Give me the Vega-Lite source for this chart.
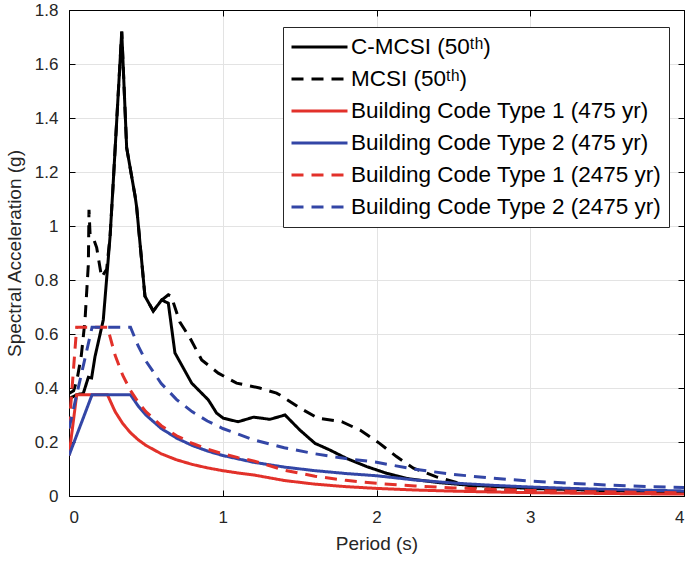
{
  "$schema": "https://vega.github.io/schema/vega-lite/v6.json",
  "width": 615,
  "height": 486,
  "autosize": {"type": "none"},
  "padding": {"left": 69, "top": 10, "right": 7, "bottom": 66},
  "config": {
    "font": "Liberation Sans",
    "view": {"stroke": "black", "strokeWidth": 1},
    "axis": {
      "grid": true,
      "gridColor": "#e3e3e3",
      "gridWidth": 1,
      "domainColor": "black",
      "tickColor": "black",
      "tickSize": -6,
      "labelColor": "#262626",
      "labelFont": "Liberation Sans",
      "labelFontSize": 17,
      "titleFont": "Liberation Sans",
      "titleFontSize": 19,
      "titleFontWeight": "normal",
      "titleColor": "#262626"
    }
  },
  "datasets": {
    "curves": [
      {"series": "C-MCSI (50ᵗʰ)", "T": 0, "Sa": 0.36},
      {"series": "C-MCSI (50ᵗʰ)", "T": 0.05, "Sa": 0.375},
      {"series": "C-MCSI (50ᵗʰ)", "T": 0.093, "Sa": 0.38},
      {"series": "C-MCSI (50ᵗʰ)", "T": 0.126, "Sa": 0.44},
      {"series": "C-MCSI (50ᵗʰ)", "T": 0.147, "Sa": 0.437},
      {"series": "C-MCSI (50ᵗʰ)", "T": 0.169, "Sa": 0.516},
      {"series": "C-MCSI (50ᵗʰ)", "T": 0.223, "Sa": 0.652},
      {"series": "C-MCSI (50ᵗʰ)", "T": 0.267, "Sa": 0.96},
      {"series": "C-MCSI (50ᵗʰ)", "T": 0.286, "Sa": 1.144},
      {"series": "C-MCSI (50ᵗʰ)", "T": 0.343, "Sa": 1.72},
      {"series": "C-MCSI (50ᵗʰ)", "T": 0.375, "Sa": 1.29},
      {"series": "C-MCSI (50ᵗʰ)", "T": 0.43, "Sa": 1.11},
      {"series": "C-MCSI (50ᵗʰ)", "T": 0.44, "Sa": 1.07},
      {"series": "C-MCSI (50ᵗʰ)", "T": 0.494, "Sa": 0.74},
      {"series": "C-MCSI (50ᵗʰ)", "T": 0.548, "Sa": 0.685},
      {"series": "C-MCSI (50ᵗʰ)", "T": 0.603, "Sa": 0.726},
      {"series": "C-MCSI (50ᵗʰ)", "T": 0.646, "Sa": 0.714},
      {"series": "C-MCSI (50ᵗʰ)", "T": 0.689, "Sa": 0.53},
      {"series": "C-MCSI (50ᵗʰ)", "T": 0.798, "Sa": 0.418},
      {"series": "C-MCSI (50ᵗʰ)", "T": 0.906, "Sa": 0.356},
      {"series": "C-MCSI (50ᵗʰ)", "T": 0.96, "Sa": 0.307},
      {"series": "C-MCSI (50ᵗʰ)", "T": 1.004, "Sa": 0.288},
      {"series": "C-MCSI (50ᵗʰ)", "T": 1.1, "Sa": 0.275},
      {"series": "C-MCSI (50ᵗʰ)", "T": 1.2, "Sa": 0.292},
      {"series": "C-MCSI (50ᵗʰ)", "T": 1.307, "Sa": 0.284},
      {"series": "C-MCSI (50ᵗʰ)", "T": 1.405, "Sa": 0.3},
      {"series": "C-MCSI (50ᵗʰ)", "T": 1.502, "Sa": 0.244},
      {"series": "C-MCSI (50ᵗʰ)", "T": 1.6, "Sa": 0.195},
      {"series": "C-MCSI (50ᵗʰ)", "T": 1.698, "Sa": 0.17},
      {"series": "C-MCSI (50ᵗʰ)", "T": 1.806, "Sa": 0.139},
      {"series": "C-MCSI (50ᵗʰ)", "T": 1.936, "Sa": 0.109},
      {"series": "C-MCSI (50ᵗʰ)", "T": 2.066, "Sa": 0.084},
      {"series": "C-MCSI (50ᵗʰ)", "T": 2.196, "Sa": 0.065},
      {"series": "C-MCSI (50ᵗʰ)", "T": 2.4, "Sa": 0.05},
      {"series": "C-MCSI (50ᵗʰ)", "T": 2.6, "Sa": 0.04},
      {"series": "C-MCSI (50ᵗʰ)", "T": 3.0, "Sa": 0.028},
      {"series": "C-MCSI (50ᵗʰ)", "T": 3.5, "Sa": 0.02},
      {"series": "C-MCSI (50ᵗʰ)", "T": 4.0, "Sa": 0.015},

      {"series": "MCSI (50ᵗʰ)", "T": 0, "Sa": 0.38},
      {"series": "MCSI (50ᵗʰ)", "T": 0.03, "Sa": 0.39},
      {"series": "MCSI (50ᵗʰ)", "T": 0.052, "Sa": 0.43},
      {"series": "MCSI (50ᵗʰ)", "T": 0.08, "Sa": 0.52},
      {"series": "MCSI (50ᵗʰ)", "T": 0.104, "Sa": 0.65},
      {"series": "MCSI (50ᵗʰ)", "T": 0.126, "Sa": 0.86},
      {"series": "MCSI (50ᵗʰ)", "T": 0.13, "Sa": 1.06},
      {"series": "MCSI (50ᵗʰ)", "T": 0.137, "Sa": 0.97},
      {"series": "MCSI (50ᵗʰ)", "T": 0.158, "Sa": 0.955},
      {"series": "MCSI (50ᵗʰ)", "T": 0.18, "Sa": 0.92},
      {"series": "MCSI (50ᵗʰ)", "T": 0.212, "Sa": 0.81},
      {"series": "MCSI (50ᵗʰ)", "T": 0.245, "Sa": 0.84},
      {"series": "MCSI (50ᵗʰ)", "T": 0.267, "Sa": 0.96},
      {"series": "MCSI (50ᵗʰ)", "T": 0.286, "Sa": 1.144},
      {"series": "MCSI (50ᵗʰ)", "T": 0.343, "Sa": 1.72},
      {"series": "MCSI (50ᵗʰ)", "T": 0.375, "Sa": 1.29},
      {"series": "MCSI (50ᵗʰ)", "T": 0.43, "Sa": 1.11},
      {"series": "MCSI (50ᵗʰ)", "T": 0.44, "Sa": 1.07},
      {"series": "MCSI (50ᵗʰ)", "T": 0.494, "Sa": 0.74},
      {"series": "MCSI (50ᵗʰ)", "T": 0.548, "Sa": 0.685},
      {"series": "MCSI (50ᵗʰ)", "T": 0.603, "Sa": 0.726},
      {"series": "MCSI (50ᵗʰ)", "T": 0.646, "Sa": 0.745},
      {"series": "MCSI (50ᵗʰ)", "T": 0.665, "Sa": 0.74},
      {"series": "MCSI (50ᵗʰ)", "T": 0.72, "Sa": 0.645},
      {"series": "MCSI (50ᵗʰ)", "T": 0.787, "Sa": 0.585},
      {"series": "MCSI (50ᵗʰ)", "T": 0.863, "Sa": 0.504},
      {"series": "MCSI (50ᵗʰ)", "T": 0.971, "Sa": 0.455},
      {"series": "MCSI (50ᵗʰ)", "T": 1.09, "Sa": 0.418},
      {"series": "MCSI (50ᵗʰ)", "T": 1.24, "Sa": 0.4},
      {"series": "MCSI (50ᵗʰ)", "T": 1.35, "Sa": 0.381},
      {"series": "MCSI (50ᵗʰ)", "T": 1.372, "Sa": 0.374},
      {"series": "MCSI (50ᵗʰ)", "T": 1.502, "Sa": 0.326},
      {"series": "MCSI (50ᵗʰ)", "T": 1.62, "Sa": 0.288},
      {"series": "MCSI (50ᵗʰ)", "T": 1.774, "Sa": 0.275},
      {"series": "MCSI (50ᵗʰ)", "T": 1.893, "Sa": 0.244},
      {"series": "MCSI (50ᵗʰ)", "T": 2.02, "Sa": 0.195},
      {"series": "MCSI (50ᵗʰ)", "T": 2.13, "Sa": 0.146},
      {"series": "MCSI (50ᵗʰ)", "T": 2.24, "Sa": 0.103},
      {"series": "MCSI (50ᵗʰ)", "T": 2.39, "Sa": 0.071},
      {"series": "MCSI (50ᵗʰ)", "T": 2.54, "Sa": 0.047},
      {"series": "MCSI (50ᵗʰ)", "T": 2.72, "Sa": 0.022},
      {"series": "MCSI (50ᵗʰ)", "T": 3.0, "Sa": 0.02},
      {"series": "MCSI (50ᵗʰ)", "T": 3.5, "Sa": 0.017},
      {"series": "MCSI (50ᵗʰ)", "T": 4.0, "Sa": 0.015},

      {"series": "Building Code Type 1 (475 yr)", "T": 0, "Sa": 0.15},
      {"series": "Building Code Type 1 (475 yr)", "T": 0.05, "Sa": 0.375},
      {"series": "Building Code Type 1 (475 yr)", "T": 0.25, "Sa": 0.375},
      {"series": "Building Code Type 1 (475 yr)", "T": 0.3, "Sa": 0.3125},
      {"series": "Building Code Type 1 (475 yr)", "T": 0.35, "Sa": 0.2679},
      {"series": "Building Code Type 1 (475 yr)", "T": 0.4, "Sa": 0.2344},
      {"series": "Building Code Type 1 (475 yr)", "T": 0.45, "Sa": 0.2083},
      {"series": "Building Code Type 1 (475 yr)", "T": 0.5, "Sa": 0.1875},
      {"series": "Building Code Type 1 (475 yr)", "T": 0.6, "Sa": 0.1563},
      {"series": "Building Code Type 1 (475 yr)", "T": 0.7, "Sa": 0.1339},
      {"series": "Building Code Type 1 (475 yr)", "T": 0.8, "Sa": 0.1172},
      {"series": "Building Code Type 1 (475 yr)", "T": 0.9, "Sa": 0.1042},
      {"series": "Building Code Type 1 (475 yr)", "T": 1.0, "Sa": 0.0938},
      {"series": "Building Code Type 1 (475 yr)", "T": 1.1, "Sa": 0.0852},
      {"series": "Building Code Type 1 (475 yr)", "T": 1.2, "Sa": 0.0781},
      {"series": "Building Code Type 1 (475 yr)", "T": 1.4, "Sa": 0.0574},
      {"series": "Building Code Type 1 (475 yr)", "T": 1.6, "Sa": 0.0439},
      {"series": "Building Code Type 1 (475 yr)", "T": 1.8, "Sa": 0.0347},
      {"series": "Building Code Type 1 (475 yr)", "T": 2.0, "Sa": 0.0281},
      {"series": "Building Code Type 1 (475 yr)", "T": 2.25, "Sa": 0.0222},
      {"series": "Building Code Type 1 (475 yr)", "T": 2.5, "Sa": 0.018},
      {"series": "Building Code Type 1 (475 yr)", "T": 2.75, "Sa": 0.0149},
      {"series": "Building Code Type 1 (475 yr)", "T": 3.0, "Sa": 0.0125},
      {"series": "Building Code Type 1 (475 yr)", "T": 3.25, "Sa": 0.0107},
      {"series": "Building Code Type 1 (475 yr)", "T": 3.5, "Sa": 0.0092},
      {"series": "Building Code Type 1 (475 yr)", "T": 3.75, "Sa": 0.008},
      {"series": "Building Code Type 1 (475 yr)", "T": 4.0, "Sa": 0.007},

      {"series": "Building Code Type 2 (475 yr)", "T": 0, "Sa": 0.15},
      {"series": "Building Code Type 2 (475 yr)", "T": 0.15, "Sa": 0.375},
      {"series": "Building Code Type 2 (475 yr)", "T": 0.4, "Sa": 0.375},
      {"series": "Building Code Type 2 (475 yr)", "T": 0.45, "Sa": 0.3333},
      {"series": "Building Code Type 2 (475 yr)", "T": 0.5, "Sa": 0.3},
      {"series": "Building Code Type 2 (475 yr)", "T": 0.6, "Sa": 0.25},
      {"series": "Building Code Type 2 (475 yr)", "T": 0.7, "Sa": 0.2143},
      {"series": "Building Code Type 2 (475 yr)", "T": 0.8, "Sa": 0.1875},
      {"series": "Building Code Type 2 (475 yr)", "T": 0.9, "Sa": 0.1667},
      {"series": "Building Code Type 2 (475 yr)", "T": 1.0, "Sa": 0.15},
      {"series": "Building Code Type 2 (475 yr)", "T": 1.2, "Sa": 0.125},
      {"series": "Building Code Type 2 (475 yr)", "T": 1.4, "Sa": 0.1071},
      {"series": "Building Code Type 2 (475 yr)", "T": 1.6, "Sa": 0.0938},
      {"series": "Building Code Type 2 (475 yr)", "T": 1.8, "Sa": 0.0833},
      {"series": "Building Code Type 2 (475 yr)", "T": 2.0, "Sa": 0.075},
      {"series": "Building Code Type 2 (475 yr)", "T": 2.25, "Sa": 0.0593},
      {"series": "Building Code Type 2 (475 yr)", "T": 2.5, "Sa": 0.048},
      {"series": "Building Code Type 2 (475 yr)", "T": 2.75, "Sa": 0.0397},
      {"series": "Building Code Type 2 (475 yr)", "T": 3.0, "Sa": 0.0333},
      {"series": "Building Code Type 2 (475 yr)", "T": 3.25, "Sa": 0.0284},
      {"series": "Building Code Type 2 (475 yr)", "T": 3.5, "Sa": 0.0245},
      {"series": "Building Code Type 2 (475 yr)", "T": 3.75, "Sa": 0.0213},
      {"series": "Building Code Type 2 (475 yr)", "T": 4.0, "Sa": 0.0188},

      {"series": "Building Code Type 1 (2475 yr)", "T": 0, "Sa": 0.25},
      {"series": "Building Code Type 1 (2475 yr)", "T": 0.05, "Sa": 0.625},
      {"series": "Building Code Type 1 (2475 yr)", "T": 0.25, "Sa": 0.625},
      {"series": "Building Code Type 1 (2475 yr)", "T": 0.3, "Sa": 0.5208},
      {"series": "Building Code Type 1 (2475 yr)", "T": 0.35, "Sa": 0.4464},
      {"series": "Building Code Type 1 (2475 yr)", "T": 0.4, "Sa": 0.3906},
      {"series": "Building Code Type 1 (2475 yr)", "T": 0.45, "Sa": 0.3472},
      {"series": "Building Code Type 1 (2475 yr)", "T": 0.5, "Sa": 0.3125},
      {"series": "Building Code Type 1 (2475 yr)", "T": 0.6, "Sa": 0.2604},
      {"series": "Building Code Type 1 (2475 yr)", "T": 0.7, "Sa": 0.2232},
      {"series": "Building Code Type 1 (2475 yr)", "T": 0.8, "Sa": 0.1953},
      {"series": "Building Code Type 1 (2475 yr)", "T": 0.9, "Sa": 0.1736},
      {"series": "Building Code Type 1 (2475 yr)", "T": 1.0, "Sa": 0.1563},
      {"series": "Building Code Type 1 (2475 yr)", "T": 1.1, "Sa": 0.142},
      {"series": "Building Code Type 1 (2475 yr)", "T": 1.2, "Sa": 0.1302},
      {"series": "Building Code Type 1 (2475 yr)", "T": 1.4, "Sa": 0.0957},
      {"series": "Building Code Type 1 (2475 yr)", "T": 1.6, "Sa": 0.0732},
      {"series": "Building Code Type 1 (2475 yr)", "T": 1.8, "Sa": 0.0579},
      {"series": "Building Code Type 1 (2475 yr)", "T": 2.0, "Sa": 0.0469},
      {"series": "Building Code Type 1 (2475 yr)", "T": 2.25, "Sa": 0.037},
      {"series": "Building Code Type 1 (2475 yr)", "T": 2.5, "Sa": 0.03},
      {"series": "Building Code Type 1 (2475 yr)", "T": 2.75, "Sa": 0.0248},
      {"series": "Building Code Type 1 (2475 yr)", "T": 3.0, "Sa": 0.0208},
      {"series": "Building Code Type 1 (2475 yr)", "T": 3.25, "Sa": 0.0178},
      {"series": "Building Code Type 1 (2475 yr)", "T": 3.5, "Sa": 0.0153},
      {"series": "Building Code Type 1 (2475 yr)", "T": 3.75, "Sa": 0.0133},
      {"series": "Building Code Type 1 (2475 yr)", "T": 4.0, "Sa": 0.0117},

      {"series": "Building Code Type 2 (2475 yr)", "T": 0, "Sa": 0.25},
      {"series": "Building Code Type 2 (2475 yr)", "T": 0.15, "Sa": 0.625},
      {"series": "Building Code Type 2 (2475 yr)", "T": 0.4, "Sa": 0.625},
      {"series": "Building Code Type 2 (2475 yr)", "T": 0.45, "Sa": 0.5556},
      {"series": "Building Code Type 2 (2475 yr)", "T": 0.5, "Sa": 0.5},
      {"series": "Building Code Type 2 (2475 yr)", "T": 0.6, "Sa": 0.4167},
      {"series": "Building Code Type 2 (2475 yr)", "T": 0.7, "Sa": 0.3571},
      {"series": "Building Code Type 2 (2475 yr)", "T": 0.8, "Sa": 0.3125},
      {"series": "Building Code Type 2 (2475 yr)", "T": 0.9, "Sa": 0.2778},
      {"series": "Building Code Type 2 (2475 yr)", "T": 1.0, "Sa": 0.25},
      {"series": "Building Code Type 2 (2475 yr)", "T": 1.2, "Sa": 0.2083},
      {"series": "Building Code Type 2 (2475 yr)", "T": 1.4, "Sa": 0.1786},
      {"series": "Building Code Type 2 (2475 yr)", "T": 1.6, "Sa": 0.1563},
      {"series": "Building Code Type 2 (2475 yr)", "T": 1.8, "Sa": 0.1389},
      {"series": "Building Code Type 2 (2475 yr)", "T": 2.0, "Sa": 0.125},
      {"series": "Building Code Type 2 (2475 yr)", "T": 2.25, "Sa": 0.0988},
      {"series": "Building Code Type 2 (2475 yr)", "T": 2.5, "Sa": 0.08},
      {"series": "Building Code Type 2 (2475 yr)", "T": 2.75, "Sa": 0.0661},
      {"series": "Building Code Type 2 (2475 yr)", "T": 3.0, "Sa": 0.0556},
      {"series": "Building Code Type 2 (2475 yr)", "T": 3.25, "Sa": 0.0473},
      {"series": "Building Code Type 2 (2475 yr)", "T": 3.5, "Sa": 0.0408},
      {"series": "Building Code Type 2 (2475 yr)", "T": 3.75, "Sa": 0.0356},
      {"series": "Building Code Type 2 (2475 yr)", "T": 4.0, "Sa": 0.0313}
    ],
    "frame": [{"T": 0, "Sa": 0}]
  },
  "layer": [
    {
      "data": {"name": "curves"},
      "mark": {"type": "line", "strokeWidth": 3, "clip": true},
      "encoding": {
        "x": {
          "field": "T", "type": "quantitative",
          "scale": {"domain": [0, 4], "nice": false, "zero": false},
          "axis": {"title": "Period (s)", "values": [0, 1, 2, 3, 4], "format": "d", "labelPadding": 19, "titlePadding": 9, "orient": "bottom"}
        },
        "y": {
          "field": "Sa", "type": "quantitative",
          "scale": {"domain": [0, 1.8], "nice": false},
          "axis": {"title": "Spectral Acceleration (g)", "values": [0, 0.2, 0.4, 0.6, 0.8, 1, 1.2, 1.4, 1.6, 1.8], "format": "~g", "labelPadding": 17, "titlePadding": 10, "orient": "left"}
        },
        "color": {
          "field": "series", "type": "nominal",
          "scale": {
            "domain": ["C-MCSI (50ᵗʰ)", "MCSI (50ᵗʰ)", "Building Code Type 1 (475 yr)", "Building Code Type 2 (475 yr)", "Building Code Type 1 (2475 yr)", "Building Code Type 2 (2475 yr)"],
            "range": ["#000000", "#000000", "#E2312A", "#3346A6", "#E2312A", "#3346A6"]
          },
          "legend": {
            "title": null,
            "orient": "none",
            "legendX": 214,
            "legendY": 17,
            "padding": 7,
            "strokeColor": "#262626",
            "fillColor": "white",
            "cornerRadius": 0,
            "symbolType": "stroke",
            "symbolSize": 3136,
            "symbolStrokeWidth": 3,
            "clipHeight": 26,
            "rowPadding": 6,
            "labelFont": "Liberation Sans",
            "labelFontSize": 22.5,
            "labelColor": "black",
            "labelLimit": 400,
            "labelOffset": 2
          }
        },
        "strokeDash": {
          "field": "series", "type": "nominal",
          "scale": {
            "domain": ["C-MCSI (50ᵗʰ)", "MCSI (50ᵗʰ)", "Building Code Type 1 (475 yr)", "Building Code Type 2 (475 yr)", "Building Code Type 1 (2475 yr)", "Building Code Type 2 (2475 yr)"],
            "range": [[1, 0], [12, 8], [1, 0], [1, 0], [12, 8], [12, 8]]
          },
          "legend": {
            "title": null,
            "orient": "none",
            "legendX": 214,
            "legendY": 17,
            "padding": 7,
            "strokeColor": "#262626",
            "fillColor": "white",
            "cornerRadius": 0,
            "symbolType": "stroke",
            "symbolSize": 3136,
            "symbolStrokeWidth": 3,
            "clipHeight": 26,
            "rowPadding": 6,
            "labelFont": "Liberation Sans",
            "labelFontSize": 22.5,
            "labelColor": "black",
            "labelLimit": 400,
            "labelOffset": 2
          }
        }
      }
    },
    {
      "data": {"name": "frame"},
      "mark": {"type": "point", "opacity": 0},
      "encoding": {
        "x": {"field": "T", "type": "quantitative", "axis": {"orient": "top", "labels": false, "title": null, "grid": false, "values": [0, 1, 2, 3, 4]}},
        "y": {"field": "Sa", "type": "quantitative", "axis": {"orient": "right", "labels": false, "title": null, "grid": false, "values": [0, 0.2, 0.4, 0.6, 0.8, 1, 1.2, 1.4, 1.6, 1.8]}}
      }
    }
  ],
  "resolve": {"axis": {"x": "independent", "y": "independent"}}
}
